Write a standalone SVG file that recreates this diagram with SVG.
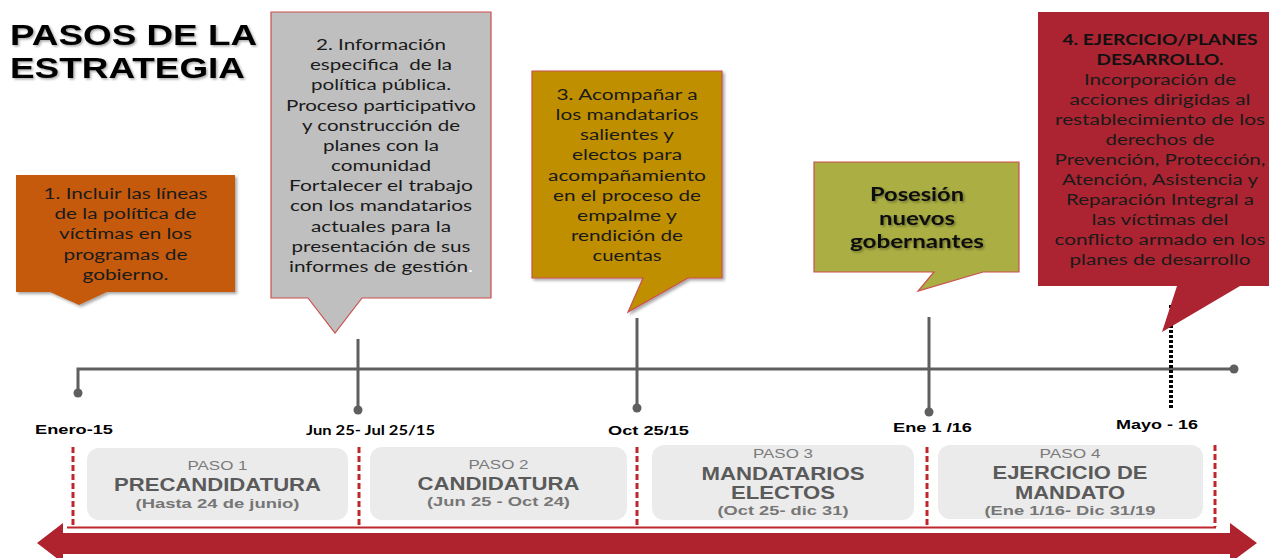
<svg xmlns="http://www.w3.org/2000/svg" width="1269" height="558" viewBox="0 0 1269 558">
<defs>
<style>
.bt{font-family:Lato,"Liberation Sans",sans-serif;font-size:15.5px;fill:#1a1a1a;text-anchor:middle}
.bb{font-family:Lato,"Liberation Sans",sans-serif;font-weight:bold;text-anchor:middle;fill:#111}
.ttl{font-family:"Liberation Sans",Arial,sans-serif;font-weight:bold;font-size:30px;fill:#000}
.lab{font-family:"Liberation Sans",Arial,sans-serif;font-weight:bold;font-size:13.5px;fill:#000;text-anchor:middle}
.labc{font-family:Lato,"Liberation Sans",sans-serif;font-weight:bold;font-size:14px;fill:#000;text-anchor:middle}
.pn{font-family:"Liberation Sans",Arial,sans-serif;font-size:13px;fill:#7a7a7a;text-anchor:middle}
.ph{font-family:"Liberation Sans",Arial,sans-serif;font-weight:bold;font-size:18px;fill:#5a5a5a;text-anchor:middle}
.pd{font-family:"Liberation Sans",Arial,sans-serif;font-weight:bold;font-size:13.5px;fill:#767676;text-anchor:middle}
.step{fill:#EBEBEB}
.tl{stroke:#5f5f5f;stroke-width:3;fill:none}
.dot{fill:#5f5f5f}
.dash{stroke:#C0272D;stroke-width:3;stroke-dasharray:6 3;fill:none}
.cb{stroke:#C9504F;stroke-width:1.2}
</style>
<filter id="sh" x="-10%" y="-10%" width="130%" height="130%">
<feDropShadow dx="2" dy="2" stdDeviation="1.5" flood-color="#000" flood-opacity="0.35"/>
</filter>
<filter id="tsh" x="-5%" y="-20%" width="115%" height="150%">
<feDropShadow dx="1.5" dy="1.5" stdDeviation="1" flood-color="#000" flood-opacity="0.35"/>
</filter>
</defs>

<g id="title" filter="url(#tsh)">
<text class="ttl" x="10" y="45" textLength="247" lengthAdjust="spacingAndGlyphs">PASOS DE LA</text>
<text class="ttl" x="10" y="78" textLength="235" lengthAdjust="spacingAndGlyphs">ESTRATEGIA</text>
</g>

<g id="connectors">
<polyline class="tl" points="78,393 78,369 1234,369"/>
<circle class="dot" cx="78" cy="393" r="4.5"/>
<circle class="dot" cx="1234" cy="369" r="4.5"/>
<line class="tl" x1="358" y1="339" x2="358" y2="410"/>
<circle class="dot" cx="358" cy="410" r="4.5"/>
<line class="tl" x1="637" y1="318" x2="637" y2="408"/>
<circle class="dot" cx="637" cy="408" r="4.5"/>
<line class="tl" x1="929" y1="317" x2="929" y2="412"/>
<circle class="dot" cx="929" cy="412" r="4.5"/>
<line x1="1171" y1="305" x2="1171" y2="410" stroke="#000" stroke-width="4" stroke-dasharray="3 2"/>
<line class="dash" x1="73" y1="447" x2="73" y2="527"/>
<line class="dash" x1="359" y1="447" x2="359" y2="527"/>
<line class="dash" x1="637" y1="447" x2="637" y2="527"/>
<line class="dash" x1="927" y1="447" x2="927" y2="527"/>
<line class="dash" x1="1215" y1="445" x2="1215" y2="527"/>
<line x1="67" y1="527.5" x2="1216" y2="527.5" stroke="#C0272D" stroke-width="2"/>
<path d="M37,543 L63,523 L63,533 L1230,533 L1230,523 L1257,543 L1230,563 L1230,554 L63,554 L63,563 Z" fill="#AE232E"/>
</g>

<g id="dates">
<text class="lab" x="74" y="434" textLength="78" lengthAdjust="spacingAndGlyphs">Enero-15</text>
<text class="labc" x="370.5" y="435" textLength="129" lengthAdjust="spacingAndGlyphs">Jun 25- Jul 25/15</text>
<text class="lab" x="648.5" y="435" textLength="81" lengthAdjust="spacingAndGlyphs">Oct 25/15</text>
<text class="lab" x="932.5" y="432" textLength="79" lengthAdjust="spacingAndGlyphs">Ene 1 /16</text>
<text class="lab" x="1157" y="429" textLength="82" lengthAdjust="spacingAndGlyphs">Mayo - 16</text>
</g>

<g id="paso1">
<rect class="step" x="87" y="448" width="261" height="72" rx="12"/>
<text class="pn" x="217.5" y="470" textLength="60" lengthAdjust="spacingAndGlyphs">PASO 1</text>
<text class="ph" x="217.5" y="490.5" textLength="207" lengthAdjust="spacingAndGlyphs">PRECANDIDATURA</text>
<text class="pd" x="217.5" y="508" textLength="164" lengthAdjust="spacingAndGlyphs">(Hasta 24 de junio)</text>
</g>
<g id="paso2">
<rect class="step" x="370" y="447" width="257" height="73" rx="12"/>
<text class="pn" x="498.5" y="469" textLength="60" lengthAdjust="spacingAndGlyphs">PASO 2</text>
<text class="ph" x="498.5" y="489.5" textLength="162" lengthAdjust="spacingAndGlyphs">CANDIDATURA</text>
<text class="pd" x="498.5" y="506" textLength="143" lengthAdjust="spacingAndGlyphs">(Jun 25 - Oct 24)</text>
</g>
<g id="paso3">
<rect class="step" x="652" y="445" width="262" height="75" rx="12"/>
<text class="pn" x="783" y="458" textLength="60" lengthAdjust="spacingAndGlyphs">PASO 3</text>
<text class="ph" x="783" y="479.5" textLength="163" lengthAdjust="spacingAndGlyphs">MANDATARIOS</text>
<text class="ph" x="783" y="498.5" textLength="104" lengthAdjust="spacingAndGlyphs">ELECTOS</text>
<text class="pd" x="783" y="515" textLength="131" lengthAdjust="spacingAndGlyphs">(Oct 25- dic 31)</text>
</g>
<g id="paso4">
<rect class="step" x="938" y="445" width="265" height="74" rx="12"/>
<text class="pn" x="1070" y="458" textLength="61" lengthAdjust="spacingAndGlyphs">PASO 4</text>
<text class="ph" x="1070" y="478.5" textLength="155" lengthAdjust="spacingAndGlyphs">EJERCICIO DE</text>
<text class="ph" x="1070" y="498.5" textLength="110" lengthAdjust="spacingAndGlyphs">MANDATO</text>
<text class="pd" x="1070" y="515" textLength="171" lengthAdjust="spacingAndGlyphs">(Ene 1/16- Dic 31/19</text>
</g>

<g id="callout1">
<path d="M16,175 H235 V292 H107 L79,305 L50,292 H16 Z" fill="#C55A11" filter="url(#sh)"/>
<text class="bt" x="125.5" y="198.5" textLength="164" lengthAdjust="spacingAndGlyphs">1. Incluir las líneas</text>
<text class="bt" x="125.5" y="219" textLength="142" lengthAdjust="spacingAndGlyphs">de la política de</text>
<text class="bt" x="125.5" y="239" textLength="133" lengthAdjust="spacingAndGlyphs">víctimas en los</text>
<text class="bt" x="125.5" y="259.5" textLength="124" lengthAdjust="spacingAndGlyphs">programas de</text>
<text class="bt" x="125.5" y="280" textLength="86" lengthAdjust="spacingAndGlyphs">gobierno.</text>
</g>

<g id="callout2">
<path class="cb" d="M271,12 H491 V298 H362 L335,333 L308,298 H271 Z" fill="#BFBFBF"/>
<text class="bt" x="381" y="49.5" textLength="130" lengthAdjust="spacingAndGlyphs">2. Información</text>
<text class="bt" x="381" y="70" textLength="142" lengthAdjust="spacingAndGlyphs" xml:space="preserve">especifica  de la</text>
<text class="bt" x="381" y="90" textLength="140" lengthAdjust="spacingAndGlyphs">política pública.</text>
<text class="bt" x="381" y="110.5" textLength="190" lengthAdjust="spacingAndGlyphs">Proceso participativo</text>
<text class="bt" x="381" y="131" textLength="158" lengthAdjust="spacingAndGlyphs">y construcción de</text>
<text class="bt" x="381" y="151" textLength="116" lengthAdjust="spacingAndGlyphs">planes con la</text>
<text class="bt" x="381" y="171" textLength="100" lengthAdjust="spacingAndGlyphs">comunidad</text>
<text class="bt" x="381" y="191" textLength="184" lengthAdjust="spacingAndGlyphs">Fortalecer el trabajo</text>
<text class="bt" x="381" y="211" textLength="182" lengthAdjust="spacingAndGlyphs">con los mandatarios</text>
<text class="bt" x="381" y="232" textLength="140" lengthAdjust="spacingAndGlyphs">actuales para la</text>
<text class="bt" x="381" y="252" textLength="179" lengthAdjust="spacingAndGlyphs">presentación de sus</text>
<text class="bt" x="381" y="272" textLength="184" lengthAdjust="spacingAndGlyphs">informes de gestión<tspan fill="#ffffff">.</tspan></text>
</g>

<g id="callout3">
<path class="cb" d="M532,71 H722 V278 H688 L628,312 L643,278 H532 Z" fill="#BF8F00" filter="url(#sh)"/>
<text class="bt" x="627" y="100" textLength="141" lengthAdjust="spacingAndGlyphs">3. Acompañar a</text>
<text class="bt" x="627" y="120" textLength="143" lengthAdjust="spacingAndGlyphs">los mandatarios</text>
<text class="bt" x="627" y="140" textLength="94" lengthAdjust="spacingAndGlyphs">salientes y</text>
<text class="bt" x="627" y="160" textLength="110" lengthAdjust="spacingAndGlyphs">electos para</text>
<text class="bt" x="627" y="181" textLength="158" lengthAdjust="spacingAndGlyphs">acompañamiento</text>
<text class="bt" x="627" y="201" textLength="148" lengthAdjust="spacingAndGlyphs">en el proceso de</text>
<text class="bt" x="627" y="221" textLength="100" lengthAdjust="spacingAndGlyphs">empalme y</text>
<text class="bt" x="627" y="241" textLength="112" lengthAdjust="spacingAndGlyphs">rendición de</text>
<text class="bt" x="627" y="261" textLength="69" lengthAdjust="spacingAndGlyphs">cuentas</text>
</g>

<g id="posesion">
<path class="cb" d="M814,162 H1019 V272 H983 L918,291 L934,272 H814 Z" fill="#AAAE43"/>
<g filter="url(#tsh)">
<text class="bb" x="917" y="201" font-size="18.5" textLength="94" lengthAdjust="spacingAndGlyphs">Posesión</text>
<text class="bb" x="917" y="225" font-size="18.5" textLength="76" lengthAdjust="spacingAndGlyphs">nuevos</text>
<text class="bb" x="917" y="248" font-size="18.5" textLength="134" lengthAdjust="spacingAndGlyphs">gobernantes</text>
</g>
</g>

<g id="callout4">
<path d="M1038,12 H1269 V286 H1240 L1162,332 L1177,286 H1038 Z" fill="#AC2431"/>
<text class="bb" x="1160" y="45" font-size="16" textLength="195" lengthAdjust="spacingAndGlyphs">4. EJERCICIO/PLANES</text>
<text class="bb" x="1160" y="64.5" font-size="16" textLength="127" lengthAdjust="spacingAndGlyphs">DESARROLLO.</text>
<text class="bt" x="1160" y="84.5" textLength="152" lengthAdjust="spacingAndGlyphs">Incorporación de</text>
<text class="bt" x="1160" y="104.5" textLength="181" lengthAdjust="spacingAndGlyphs">acciones dirigidas al</text>
<text class="bt" x="1160" y="125" textLength="210" lengthAdjust="spacingAndGlyphs">restablecimiento de los</text>
<text class="bt" x="1160" y="145" textLength="109" lengthAdjust="spacingAndGlyphs">derechos de</text>
<text class="bt" x="1160" y="165" textLength="211" lengthAdjust="spacingAndGlyphs">Prevención, Protección,</text>
<text class="bt" x="1160" y="185" textLength="196" lengthAdjust="spacingAndGlyphs">Atención, Asistencia y</text>
<text class="bt" x="1160" y="205" textLength="188" lengthAdjust="spacingAndGlyphs">Reparación Integral a</text>
<text class="bt" x="1160" y="225" textLength="137" lengthAdjust="spacingAndGlyphs">las víctimas del</text>
<text class="bt" x="1160" y="245" textLength="211" lengthAdjust="spacingAndGlyphs">conflicto armado en los</text>
<text class="bt" x="1160" y="265" textLength="181" lengthAdjust="spacingAndGlyphs">planes de desarrollo</text>
</g>
</svg>
